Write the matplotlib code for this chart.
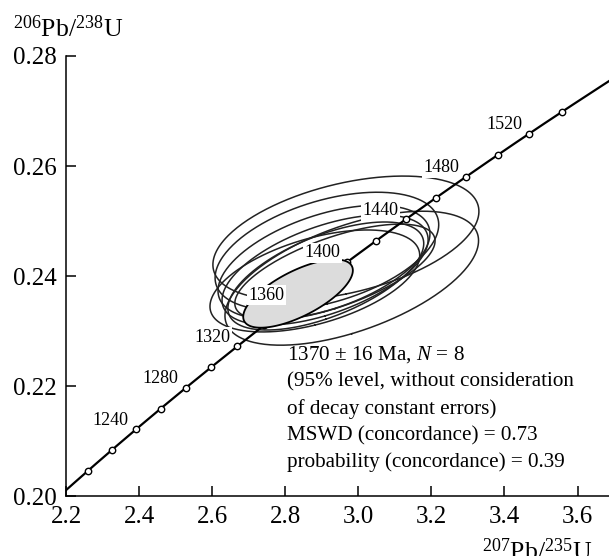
import numpy as np
import matplotlib
matplotlib.use("Agg")
import matplotlib.pyplot as plt

plt.rcParams['font.family'] = 'Liberation Serif'
plt.rcParams['mathtext.fontset'] = 'custom'
plt.rcParams['mathtext.rm'] = 'Liberation Serif'
plt.rcParams['mathtext.it'] = 'Liberation Serif:italic'

# decay constants (1/yr)
L238 = 1.55125e-10
L235 = 9.8485e-10

# measured spots: 207Pb/235U, 206Pb/238U, 2s half-widths, error correlation
pb207_u235 = [2.966, 2.982, 2.914, 2.906, 2.909, 2.911, 2.936, 2.881]
pb206_u238 = [0.2469, 0.2396, 0.2445, 0.2425, 0.2411, 0.2400, 0.2407, 0.2391]
err_207 = [0.364, 0.347, 0.306, 0.290, 0.282, 0.268, 0.274, 0.287]
err_206 = [0.01127, 0.01218, 0.01073, 0.01036, 0.0100, 0.00982, 0.00873, 0.00927]
err_rho = [0.43, 0.56, 0.45, 0.50, 0.55, 0.60, 0.65, 0.50]

# concordia age ellipse
age_x, age_y = 2.835, 0.2368
age_ex, age_ey, age_rho = 0.150, 0.0062, 0.68

# concordia marks (Ma)
mark_ages = [1200, 1220, 1240, 1260, 1280, 1300, 1320, 1340, 1360, 1380,
             1400, 1420, 1440, 1460, 1480, 1500, 1520, 1540]
label_ages = [1240, 1280, 1320, 1360, 1400, 1440, 1480, 1520]

note = ("1370 ± 16 Ma, $\\mathit{N}$ = 8\n"
        "(95% level, without consideration\n"
        "of decay constant errors)\n"
        "MSWD (concordance) = 0.73\n"
        "probability (concordance) = 0.39")


def concordia(t_ma):
    t = np.asarray(t_ma, dtype=float) * 1e6
    return np.exp(L235 * t) - 1, np.exp(L238 * t) - 1


def ellipse_xy(cx, cy, ex, ey, r, n=300):
    a = np.linspace(0, 2 * np.pi, n)
    cov = np.array([[ex ** 2, r * ex * ey], [r * ex * ey, ey ** 2]])
    w, v = np.linalg.eigh(cov)
    pts = v @ (np.sqrt(w)[:, None] * np.array([np.cos(a), np.sin(a)]))
    return cx + pts[0], cy + pts[1]


fig = plt.figure(figsize=(6.09, 5.56), dpi=100)
ax = fig.add_axes([66 / 609, 60 / 556, 1 - 66 / 609, 440 / 556])

for i in range(len(pb207_u235)):
    ex, ey = ellipse_xy(pb207_u235[i], pb206_u238[i], err_207[i], err_206[i], err_rho[i])
    ax.plot(ex, ey, color='#222222', lw=1.1, zorder=2)

cx, cy = concordia(np.linspace(1150, 1620, 400))
ax.plot(cx, cy, color='black', lw=1.6, zorder=3)
mx, my = concordia(mark_ages)
ax.plot(mx, my, 'o', ms=4.6, mfc='white', mec='black', mew=1.0, zorder=4)

gx, gy = ellipse_xy(age_x, age_y, age_ex, age_ey, age_rho)
ax.fill(gx, gy, facecolor='#dcdcdc', edgecolor='black', lw=1.3, zorder=5)

lx, ly = concordia(label_ages)
for age, x, y in zip(label_ages, lx, ly):
    ax.annotate(str(age), (x, y), xytext=(-25, 9), textcoords='offset pixels',
                ha='center', va='center', fontsize=13, zorder=6,
                bbox=dict(boxstyle='square,pad=0.1', fc='white', ec='none'))

ax.text(2.805, 0.2276, note, ha='left', va='top', fontsize=15.2,
        linespacing=1.5, zorder=7)

ax.set_xlim(2.2, 3.686)
ax.set_ylim(0.20, 0.28)
ax.set_xticks([2.2, 2.4, 2.6, 2.8, 3.0, 3.2, 3.4, 3.6])
ax.set_xticklabels(['2.2', '2.4', '2.6', '2.8', '3.0', '3.2', '3.4', '3.6'])
ax.set_yticks([0.20, 0.22, 0.24, 0.26, 0.28])
ax.set_yticklabels(['0.20', '0.22', '0.24', '0.26', '0.28'])
ax.tick_params(direction='in', length=7, width=1.1, labelsize=18, pad=7)
ax.spines['top'].set_visible(False)
ax.spines['right'].set_visible(False)
ax.spines['left'].set_linewidth(1.1)
ax.spines['bottom'].set_linewidth(1.1)
ax.patch.set_visible(False)

fig.text(13 / 609, 1 - 37 / 556, r'$^{206}$Pb/$^{238}$U', fontsize=18.5,
         ha='left', va='baseline')
fig.text(482 / 609, -4 / 556, r'$^{207}$Pb/$^{235}$U', fontsize=18.5,
         ha='left', va='baseline')

fig.savefig('out.png', dpi=100)
